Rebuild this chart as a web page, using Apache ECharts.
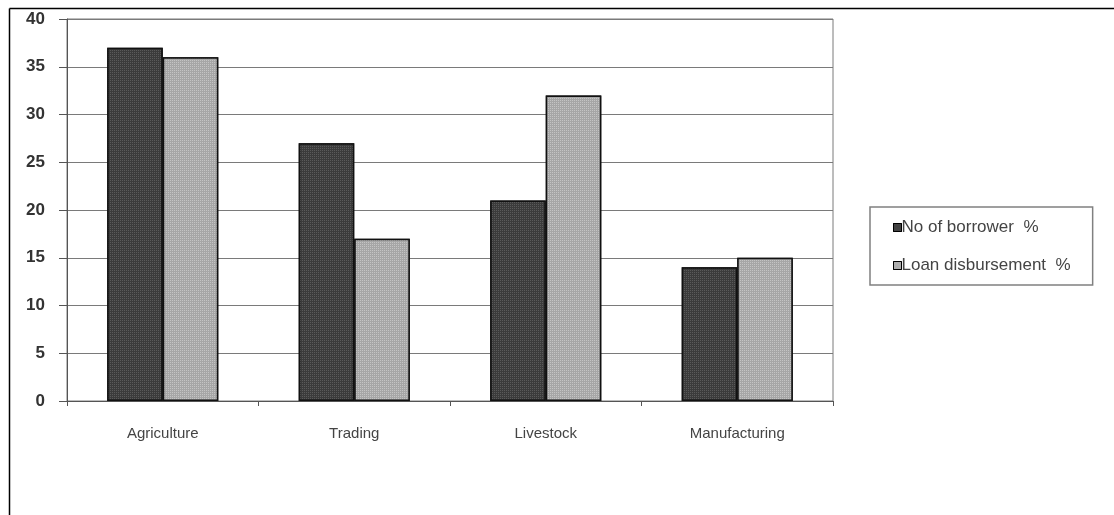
<!DOCTYPE html>
<html>
<head>
<meta charset="utf-8">
<script src="https://cdn.jsdelivr.net/npm/echarts@6/dist/echarts.min.js"></script>
<style>
  html, body { margin: 0; padding: 0; background: #fff; }
  #chart { width: 1114px; height: 515px; }
</style>
</head>
<body>
<div id="chart"></div>
<script>
// Sector shares of borrowers and disbursed loans (%)
const categories = ['Agriculture', 'Trading', 'Livestock', 'Manufacturing'];
const borrowerPct = [37, 27, 21, 14];
const loanPct = [36, 17, 32, 15];
const yTicks = [0, 5, 10, 15, 20, 25, 30, 35, 40];
const seriesNames = ['No of borrower  %', 'Loan disbursement  %'];

const chart = echarts.init(document.getElementById('chart'));

// fine stipple fill for the bars
const stipple = (bg, dot) => ({
  symbol: 'rect',
  symbolSize: 1,
  dashArrayX: [1, 1],
  dashArrayY: [1, 1],
  color: dot,
  backgroundColor: bg
});

const darkFill = '#3b3b3b';
const lightFill = '#a6a6a6';

chart.setOption({
  animation: false,
  backgroundColor: '#fff',
  graphic: [
    { type: 'line', shape: { x1: 9.5, y1: 8.5, x2: 1114, y2: 8.5 }, style: { stroke: '#000', lineWidth: 1.5 } },
    { type: 'line', shape: { x1: 9.5, y1: 8.5, x2: 9.5, y2: 515 }, style: { stroke: '#000', lineWidth: 1.5 } }
  ],
  grid: {
    left: 67, top: 19, width: 766, height: 382,
    show: true, borderColor: '#7a7a7a', borderWidth: 1
  },
  legend: {
    orient: 'vertical',
    left: 870, top: 207,
    padding: [12, 22, 11, 23],
    itemGap: 21,
    icon: 'rect',
    itemWidth: 8, itemHeight: 8,
    borderColor: '#808080', borderWidth: 1.5,
    textStyle: { fontFamily: 'Liberation Sans, Arial', fontSize: 17, color: '#444', padding: [0, 0, 0, -5] },
    data: [
      { name: seriesNames[0], itemStyle: { color: darkFill, borderColor: '#000', borderWidth: 1 } },
      { name: seriesNames[1], itemStyle: { color: lightFill, borderColor: '#000', borderWidth: 1 } }
    ]
  },
  xAxis: {
    type: 'category',
    data: categories,
    axisLine: { lineStyle: { color: '#555', width: 1 } },
    axisTick: { show: true, length: 5, lineStyle: { color: '#555' } },
    axisLabel: { margin: 25, fontFamily: 'Liberation Sans, Arial', fontSize: 15, color: '#444' }
  },
  yAxis: {
    type: 'value',
    min: yTicks[0], max: yTicks[yTicks.length - 1], interval: 5,
    axisLine: { show: true, lineStyle: { color: '#555', width: 1 } },
    axisTick: { show: true, length: 8, lineStyle: { color: '#555' } },
    axisLabel: { margin: 22, fontFamily: 'Liberation Sans, Arial', fontSize: 17, fontWeight: 'bold', color: '#333' },
    splitLine: { lineStyle: { color: '#7a7a7a', width: 1 } }
  },
  series: [
    {
      name: seriesNames[0],
      type: 'bar',
      data: borrowerPct,
      barGap: '0%',
      barCategoryGap: '42%',
      itemStyle: { color: darkFill, borderColor: '#111', borderWidth: 1.5, decal: stipple(darkFill, '#5a5a5a') }
    },
    {
      name: seriesNames[1],
      type: 'bar',
      data: loanPct,
      itemStyle: { color: lightFill, borderColor: '#111', borderWidth: 1.5, decal: stipple(lightFill, '#c4c4c4') }
    }
  ]
});
</script>
</body>
</html>
